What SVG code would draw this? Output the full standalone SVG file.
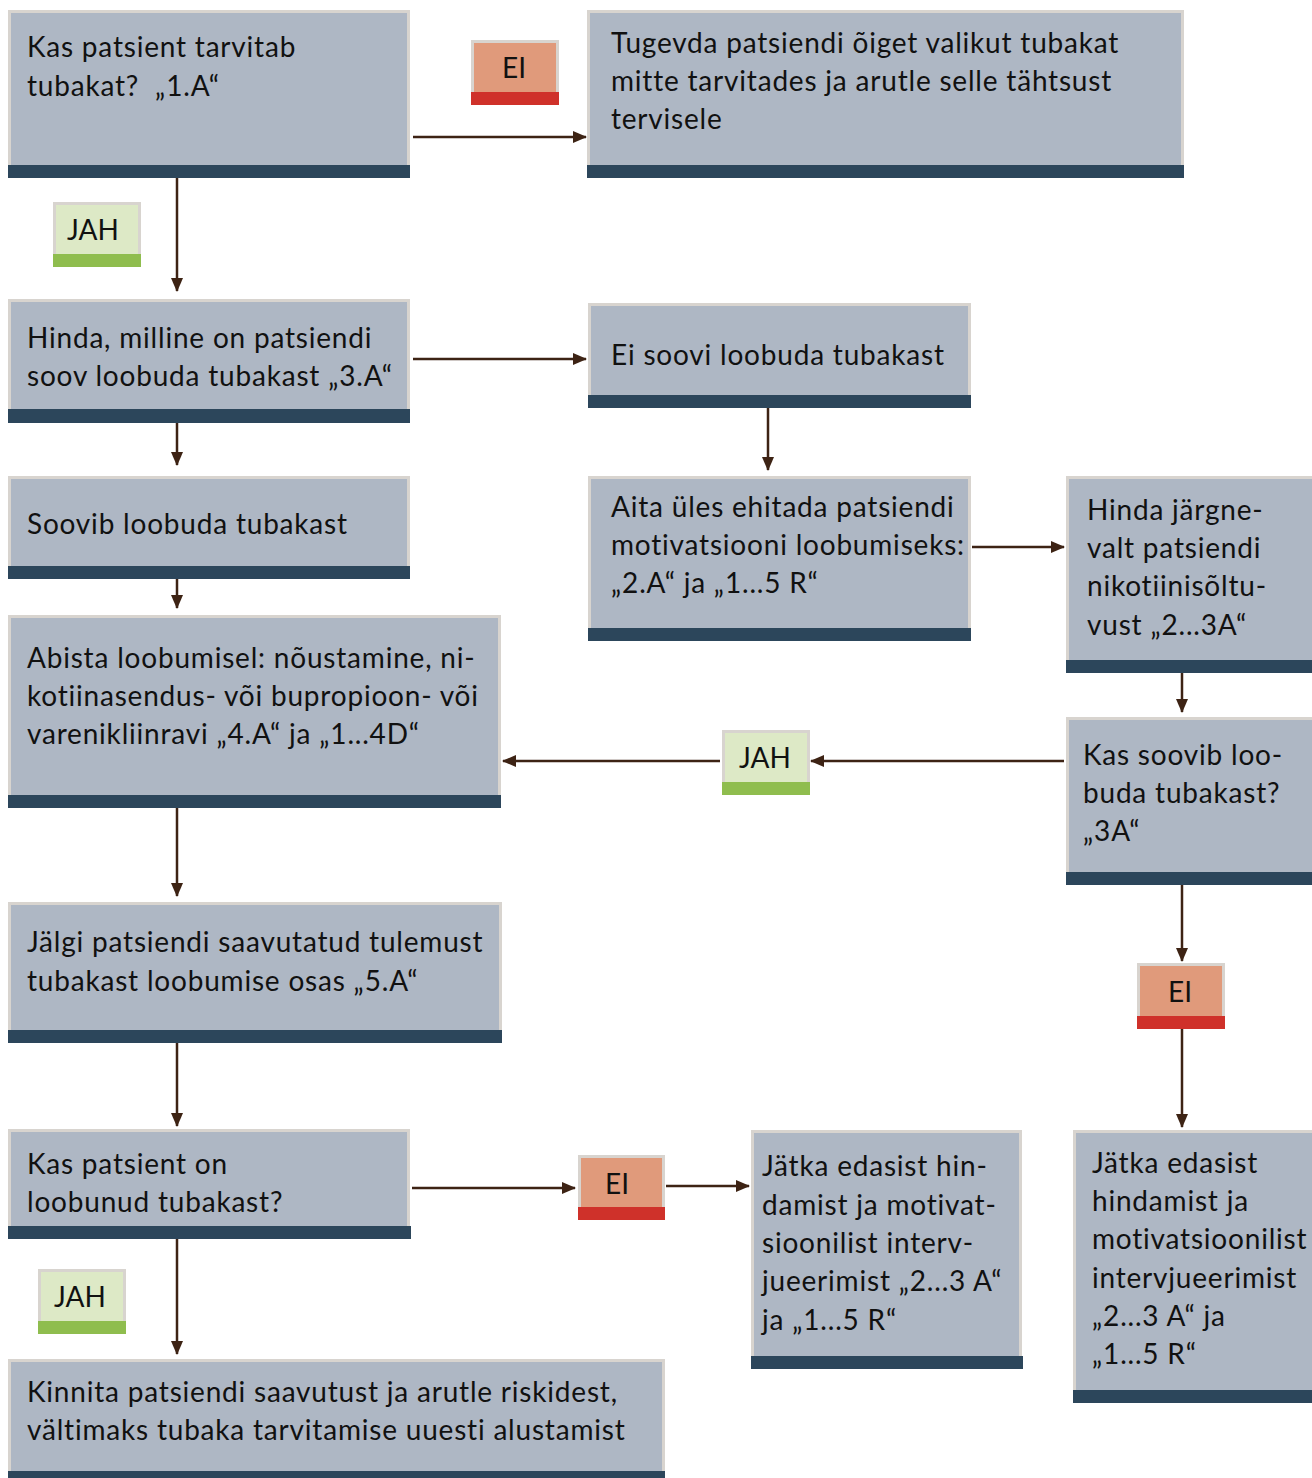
<svg xmlns="http://www.w3.org/2000/svg" width="1312" height="1478" viewBox="0 0 1312 1478">
<style>
.box{fill:#aeb7c4;stroke:#d8d4cf;stroke-width:3}
.bar{fill:#2c465b}
.t{font-family:Lato,"Noto Sans","Liberation Sans",sans-serif;font-size:28px;letter-spacing:0.8px;fill:#111}
.lt{font-family:Lato,"Noto Sans","Liberation Sans",sans-serif;font-size:28px;fill:#111;text-anchor:middle}
.jah{fill:#dde9c6;stroke:#d8d4cf;stroke-width:3}
.jbar{fill:#8fbd4e}
.ei{fill:#e09a7b;stroke:#d8d4cf;stroke-width:3}
.ebar{fill:#cf312a}
.c{stroke:#3d2314;stroke-width:2.5;fill:none;marker-end:url(#ah)}
</style>
<defs>
<marker id="ah" markerWidth="14" markerHeight="12" refX="13" refY="6" orient="auto" markerUnits="userSpaceOnUse">
<path d="M0,0 L14,6 L0,12 Z" fill="#3d2314"/>
</marker>
</defs>
<rect width="1312" height="1478" fill="#fff"/>
<g id="connectors">
<line class="c" x1="413" y1="137" x2="586" y2="137"/>
<line class="c" x1="177" y1="178" x2="177" y2="291"/>
<line class="c" x1="413" y1="359" x2="586" y2="359"/>
<line class="c" x1="177" y1="423" x2="177" y2="465"/>
<line class="c" x1="768" y1="408" x2="768" y2="470"/>
<line class="c" x1="972" y1="547" x2="1064" y2="547"/>
<line class="c" x1="177" y1="579" x2="177" y2="608"/>
<line class="c" x1="1182" y1="673" x2="1182" y2="712"/>
<line class="c" x1="1064" y1="761" x2="811" y2="761"/>
<line class="c" x1="720" y1="761" x2="503" y2="761"/>
<line class="c" x1="177" y1="808" x2="177" y2="896"/>
<line class="c" x1="1182" y1="885" x2="1182" y2="961"/>
<line class="c" x1="1182" y1="1029" x2="1182" y2="1127"/>
<line class="c" x1="177" y1="1043" x2="177" y2="1126"/>
<line class="c" x1="412" y1="1188" x2="575" y2="1188"/>
<line class="c" x1="666" y1="1186" x2="749" y2="1186"/>
<line class="c" x1="177" y1="1239" x2="177" y2="1354"/>
</g>
<g id="n1"><rect class="box" x="9.5" y="11.5" width="399" height="160"/><rect class="bar" x="8" y="165" width="402" height="13"/>
<text class="t" x="27" y="57">Kas patsient tarvitab</text><text class="t" x="27" y="96">tubakat?&#160; „1.A“</text></g>
<g id="n2"><rect class="box" x="588.5" y="11.5" width="594" height="160"/><rect class="bar" x="587" y="165" width="597" height="13"/>
<text class="t" x="611" y="53">Tugevda patsiendi õiget valikut tubakat</text><text class="t" x="611" y="91">mitte tarvitades ja arutle selle tähtsust</text><text class="t" x="611" y="129">tervisele</text></g>
<g id="ei1"><rect class="ei" x="472.5" y="41.5" width="85" height="56"/><rect class="ebar" x="471" y="92" width="88" height="13"/><text class="lt" x="514" y="78">EI</text></g>
<g id="jah1"><rect class="jah" x="54.5" y="203.5" width="85" height="56"/><rect class="jbar" x="53" y="254" width="88" height="13"/><text class="lt" x="93" y="240">JAH</text></g>
<g id="n3"><rect class="box" x="9.5" y="300.5" width="399" height="115"/><rect class="bar" x="8" y="409" width="402" height="14"/>
<text class="t" x="27" y="348">Hinda, milline on patsiendi</text><text class="t" x="27" y="386">soov loobuda tubakast „3.A“</text></g>
<g id="n4"><rect class="box" x="589.5" y="304.5" width="380" height="96"/><rect class="bar" x="588" y="395" width="383" height="13"/>
<text class="t" x="611" y="365">Ei soovi loobuda tubakast</text></g>
<g id="n5"><rect class="box" x="9.5" y="477.5" width="399" height="95"/><rect class="bar" x="8" y="566" width="402" height="13"/>
<text class="t" x="27" y="534">Soovib loobuda tubakast</text></g>
<g id="n6"><rect class="box" x="589.5" y="477.5" width="380" height="156"/><rect class="bar" x="588" y="628" width="383" height="13"/>
<text class="t" x="611" y="517">Aita üles ehitada patsiendi</text><text class="t" x="611" y="555">motivatsiooni loobumiseks:</text><text class="t" x="611" y="593">„2.A“ ja „1...5 R“</text></g>
<g id="n7"><rect class="box" x="1067.5" y="477.5" width="246" height="188"/><rect class="bar" x="1066" y="660" width="246" height="13"/>
<text class="t" x="1087" y="520">Hinda järgne-</text><text class="t" x="1087" y="558">valt patsiendi</text><text class="t" x="1087" y="596">nikotiinisõltu-</text><text class="t" x="1087" y="635">vust „2...3A“</text></g>
<g id="n8"><rect class="box" x="9.5" y="616.5" width="490" height="185"/><rect class="bar" x="8" y="795" width="493" height="13"/>
<text class="t" x="27" y="668">Abista loobumisel: nõustamine, ni-</text><text class="t" x="27" y="706">kotiinasendus- või bupropioon- või</text><text class="t" x="27" y="744">varenikliinravi „4.A“ ja „1...4D“</text></g>
<g id="jah2"><rect class="jah" x="723.5" y="731.5" width="85" height="56"/><rect class="jbar" x="722" y="782" width="88" height="13"/><text class="lt" x="765" y="768">JAH</text></g>
<g id="n9"><rect class="box" x="1067.5" y="718.5" width="246" height="160"/><rect class="bar" x="1066" y="872" width="246" height="13"/>
<text class="t" x="1083" y="765">Kas soovib loo-</text><text class="t" x="1083" y="803">buda tubakast?</text><text class="t" x="1083" y="841">„3A“</text></g>
<g id="ei2"><rect class="ei" x="1138.5" y="964.5" width="85" height="56"/><rect class="ebar" x="1137" y="1016" width="88" height="13"/><text class="lt" x="1180" y="1002">EI</text></g>
<g id="n10"><rect class="box" x="9.5" y="903.5" width="491" height="133"/><rect class="bar" x="8" y="1030" width="494" height="13"/>
<text class="t" x="27" y="952">Jälgi patsiendi saavutatud tulemust</text><text class="t" x="27" y="991">tubakast loobumise osas „5.A“</text></g>
<g id="n11"><rect class="box" x="9.5" y="1130.5" width="399" height="102"/><rect class="bar" x="8" y="1226" width="403" height="13"/>
<text class="t" x="27" y="1174">Kas patsient on</text><text class="t" x="27" y="1212">loobunud tubakast?</text></g>
<g id="ei3"><rect class="ei" x="579.5" y="1156.5" width="84" height="56"/><rect class="ebar" x="578" y="1207" width="87" height="13"/><text class="lt" x="617" y="1194">EI</text></g>
<g id="n12"><rect class="box" x="752.5" y="1131.5" width="268" height="232"/><rect class="bar" x="751" y="1356" width="272" height="13"/>
<text class="t" x="762" y="1176">Jätka edasist hin-</text><text class="t" x="762" y="1215">damist ja motivat-</text><text class="t" x="762" y="1253">sioonilist interv-</text><text class="t" x="762" y="1291">jueerimist „2...3 A“</text><text class="t" x="762" y="1330">ja „1...5 R“</text></g>
<g id="n13"><rect class="box" x="1074.5" y="1131.5" width="239" height="265"/><rect class="bar" x="1073" y="1390" width="239" height="13"/>
<text class="t" x="1092" y="1173">Jätka edasist</text><text class="t" x="1092" y="1211">hindamist ja</text><text class="t" x="1092" y="1249">motivatsioonilist</text><text class="t" x="1092" y="1288">intervjueerimist</text><text class="t" x="1092" y="1326">„2...3 A“ ja</text><text class="t" x="1092" y="1364">„1...5 R“</text></g>
<g id="jah3"><rect class="jah" x="39.5" y="1270.5" width="85" height="56"/><rect class="jbar" x="38" y="1321" width="88" height="13"/><text class="lt" x="80" y="1307">JAH</text></g>
<g id="n14"><rect class="box" x="9.5" y="1360.5" width="654" height="118"/><rect class="bar" x="8" y="1471" width="657" height="7"/>
<text class="t" x="27" y="1402">Kinnita patsiendi saavutust ja arutle riskidest,</text><text class="t" x="27" y="1440">vältimaks tubaka tarvitamise uuesti alustamist</text></g>
</svg>
